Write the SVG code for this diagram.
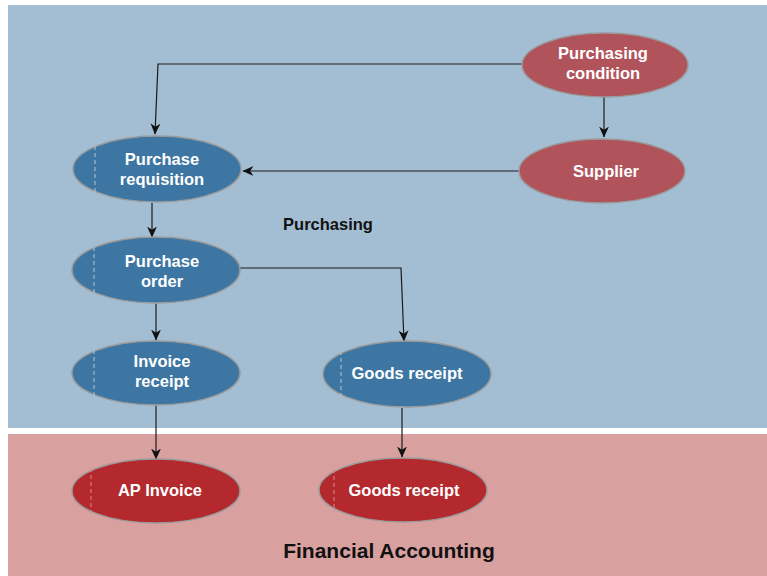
<svg xmlns="http://www.w3.org/2000/svg" width="767" height="576" viewBox="0 0 767 576">
<defs>
<marker id="arr" viewBox="0 0 10 10" refX="9.5" refY="5" markerWidth="11" markerHeight="11" markerUnits="userSpaceOnUse" orient="auto">
<path d="M0,0.5 L10,5 L0,9.5 L3,5 Z" fill="#111"/>
</marker>
</defs>
<style>
.node ellipse{stroke:#9a9a9a;stroke-width:1.5}
.blue ellipse{fill:#3D76A2}
.rose ellipse{fill:#B0535B}
.red ellipse{fill:#B3292D}
.dash{stroke:#b8c4cf;stroke-width:1;stroke-dasharray:4 3;fill:none}
.red .dash{stroke:#d88c8c}
.node text{font-family:"Liberation Sans",Arial,sans-serif;font-weight:bold;font-size:16.5px;fill:#fff;text-anchor:middle}
.lbl{font-family:"Liberation Sans",Arial,sans-serif;font-weight:bold;fill:#111;text-anchor:middle}
#connectors path{fill:none;stroke:#1a1a1a;stroke-width:1.2;marker-end:url(#arr)}
</style>
<rect x="0" y="0" width="767" height="576" fill="#fff"/>
<rect x="8" y="5" width="759" height="423" fill="#A3BED2"/>
<rect x="8" y="434" width="759" height="142" fill="#D9A0A0"/>
<text class="lbl" x="328" y="230" font-size="16.5">Purchasing</text>
<text class="lbl" x="389" y="558" font-size="21">Financial Accounting</text>
<g id="connectors">
<path d="M522,64 L158,64 L155,134"/>
<path d="M604,97 L604,137"/>
<path d="M519,171 L243,171"/>
<path d="M152,203 L152,237"/>
<path d="M240,268 L401,268 L404,341"/>
<path d="M156,304 L156,340"/>
<path d="M156,406 L156,459"/>
<path d="M402,408 L402,457"/>
</g>
<g id="purchasing-condition" class="node rose">
<ellipse cx="605" cy="65" rx="83" ry="32"/>
<text x="603" y="59">Purchasing</text>
<text x="603" y="79">condition</text>
</g>
<g id="supplier" class="node rose">
<ellipse cx="602" cy="171" rx="83" ry="32"/>
<text x="606" y="177">Supplier</text>
</g>
<g id="purchase-requisition" class="node blue">
<ellipse cx="157" cy="169" rx="84" ry="33"/>
<line class="dash" x1="95" y1="146" x2="95" y2="193"/>
<text x="162" y="165">Purchase</text>
<text x="162" y="185">requisition</text>
</g>
<g id="purchase-order" class="node blue">
<ellipse cx="156" cy="270" rx="84" ry="33"/>
<line class="dash" x1="94" y1="247" x2="94" y2="294"/>
<text x="162" y="267">Purchase</text>
<text x="162" y="287">order</text>
</g>
<g id="invoice-receipt" class="node blue">
<ellipse cx="156" cy="373" rx="84" ry="32"/>
<line class="dash" x1="94" y1="350" x2="94" y2="396"/>
<text x="162" y="367">Invoice</text>
<text x="162" y="387">receipt</text>
</g>
<g id="goods-receipt-purchasing" class="node blue">
<ellipse cx="407" cy="374" rx="84" ry="33"/>
<line class="dash" x1="341" y1="351" x2="341" y2="397"/>
<text x="407" y="379">Goods receipt</text>
</g>
<g id="ap-invoice" class="node red">
<ellipse cx="156" cy="491" rx="84" ry="32"/>
<line class="dash" x1="91" y1="468" x2="91" y2="513"/>
<text x="160" y="496">AP Invoice</text>
</g>
<g id="goods-receipt-fi" class="node red">
<ellipse cx="403" cy="490" rx="84" ry="32"/>
<line class="dash" x1="334" y1="469" x2="334" y2="512"/>
<text x="404" y="496">Goods receipt</text>
</g>
</svg>
